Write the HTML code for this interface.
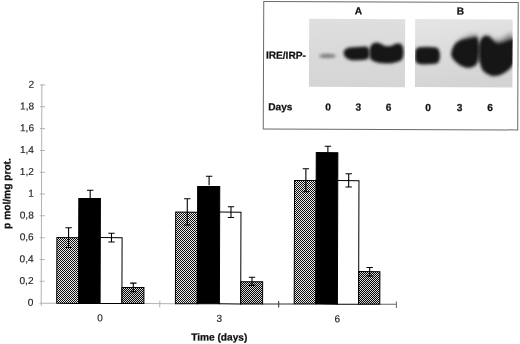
<!DOCTYPE html>
<html>
<head>
<meta charset="utf-8">
<title>Figure</title>
<style>
html,body{margin:0;padding:0;background:#fff;}
body{width:520px;height:344px;overflow:hidden;}
svg{display:block;}
text{font-family:"Liberation Sans",sans-serif;}
.t{font-size:10.1px;fill:#222;stroke:#222;stroke-width:0.15px;}
.x{font-size:10px;fill:#222;stroke:#222;stroke-width:0.15px;}
.b{font-size:10.15px;font-weight:bold;fill:#111;stroke:#111;stroke-width:0.25px;}
</style>
</head>
<body>
<svg width="520" height="344" viewBox="0 0 520 344">
<defs>
  <pattern id="diag" width="1.41421" height="1.41421" patternUnits="userSpaceOnUse" patternTransform="rotate(-0.1719 42 303.3) translate(0.55,0) rotate(45)">
    <rect width="1.5" height="1.5" fill="#fff"/>
    <rect width="1.5" height="0.72" fill="#000"/>
  </pattern>
  <pattern id="chk" width="2" height="2" patternUnits="userSpaceOnUse" patternTransform="rotate(-0.1719 42 303.3)">
    <rect width="2" height="2" fill="#000"/>
    <rect x="0.04" y="0.04" width="0.92" height="0.92" fill="#fff"/>
    <rect x="1.04" y="1.04" width="0.92" height="0.92" fill="#fff"/>
  </pattern>
  <filter id="bl1" x="-30%" y="-30%" width="160%" height="160%"><feGaussianBlur stdDeviation="1.35"/></filter>
  <filter id="bl2" x="-30%" y="-30%" width="160%" height="160%"><feGaussianBlur stdDeviation="1.6"/></filter>
  <filter id="bl3" x="-30%" y="-30%" width="160%" height="160%"><feGaussianBlur stdDeviation="2.6"/></filter>
  <clipPath id="cA"><rect x="309" y="19.1" width="96" height="68"/></clipPath>
  <clipPath id="cB"><rect x="415" y="18.9" width="97.5" height="68"/></clipPath>
  <linearGradient id="gA" x1="0" y1="0" x2="0" y2="1">
    <stop offset="0" stop-color="#dfdfdf"/><stop offset="0.5" stop-color="#d9d9d9"/><stop offset="1" stop-color="#d5d5d5"/>
  </linearGradient>
  <linearGradient id="gB" x1="0" y1="0" x2="0.25" y2="1">
    <stop offset="0" stop-color="#e6e6e6"/><stop offset="0.5" stop-color="#dcdcdc"/><stop offset="1" stop-color="#d4d4d4"/>
  </linearGradient>
</defs>
<rect width="520" height="344" fill="#fff"/>
<g id="chart" transform="rotate(0.1719 42.0 303.3)">
  <g stroke="#b2b2b2" stroke-width="1" fill="none">
    <line x1="41.2" y1="84.50" x2="41.2" y2="306"/>
    <line x1="39.5" y1="85.00" x2="44.5" y2="85.00"/>
    <line x1="39.5" y1="106.81" x2="44.5" y2="106.81"/>
    <line x1="39.5" y1="128.62" x2="44.5" y2="128.62"/>
    <line x1="39.5" y1="150.43" x2="44.5" y2="150.43"/>
    <line x1="39.5" y1="172.24" x2="44.5" y2="172.24"/>
    <line x1="39.5" y1="194.05" x2="44.5" y2="194.05"/>
    <line x1="39.5" y1="215.86" x2="44.5" y2="215.86"/>
    <line x1="39.5" y1="237.67" x2="44.5" y2="237.67"/>
    <line x1="39.5" y1="259.48" x2="44.5" y2="259.48"/>
    <line x1="39.5" y1="281.29" x2="44.5" y2="281.29"/>
    <line x1="39.5" y1="303.20" x2="57" y2="303.20"/>
    <line x1="144" y1="303.3" x2="176" y2="303.3"/>
    <line x1="159.8" y1="300.3" x2="159.8" y2="306.8"/>
  </g>
  <g stroke="#333" stroke-width="1" fill="none">
    <line x1="262" y1="303.3" x2="294" y2="303.3"/>
    <line x1="278.7" y1="300.3" x2="278.7" y2="306.8"/>
  </g>
  <g stroke="#666" stroke-width="1" fill="none">
    <line x1="380" y1="303.3" x2="396.4" y2="303.3"/>
    <line x1="396.4" y1="300.5" x2="396.4" y2="307.0"/>
  </g>
  <g class="t" text-anchor="end">
    <text x="33.5" y="87.75">2</text>
    <text x="33.5" y="109.56">1,8</text>
    <text x="33.5" y="131.37">1,6</text>
    <text x="33.5" y="153.18">1,4</text>
    <text x="33.5" y="174.99">1,2</text>
    <text x="33.5" y="196.80">1</text>
    <text x="33.5" y="218.61">0,8</text>
    <text x="33.5" y="240.42">0,6</text>
    <text x="33.5" y="262.23">0,4</text>
    <text x="33.5" y="284.04">0,2</text>
    <text x="33.5" y="305.85">0</text>
  </g>
  <text class="b" style="font-size:10.2px" transform="translate(10,229) rotate(-90)">p mol/mg prot.</text>
  <g class="x" text-anchor="middle">
    <text x="100.05" y="321.03">0</text>
    <text x="219.36" y="321.17">3</text>
    <text x="337.36" y="321.31">6</text>
  </g>
  <text class="b" x="191.31" y="340.05">Time (days)</text>
  <g stroke="#000" stroke-width="1">
    <rect x="56.70" y="237.52" width="21.80" height="65.78" fill="url(#diag)"/>
    <rect x="78.50" y="198.36" width="21.60" height="104.94" fill="#000"/>
    <rect x="100.10" y="237.39" width="21.80" height="65.91" fill="#fff"/>
    <rect x="121.90" y="287.23" width="22.00" height="16.07" fill="url(#chk)"/>
    <rect x="175.40" y="211.67" width="21.90" height="91.63" fill="url(#diag)"/>
    <rect x="197.30" y="186.00" width="22.10" height="117.30" fill="#000"/>
    <rect x="219.40" y="211.54" width="21.30" height="91.76" fill="#fff"/>
    <rect x="240.70" y="281.07" width="21.90" height="22.23" fill="url(#chk)"/>
    <rect x="294.20" y="179.71" width="21.60" height="123.59" fill="url(#diag)"/>
    <rect x="315.80" y="151.75" width="21.60" height="151.55" fill="#000"/>
    <rect x="337.40" y="179.68" width="21.20" height="123.62" fill="#fff"/>
    <rect x="358.60" y="270.62" width="21.20" height="32.68" fill="url(#chk)"/>
  </g>
  <g stroke="#000" stroke-width="1.1" fill="none">
    <path d="M68.37 227.62V247.42M65.17 227.62h6.4M65.17 247.42h6.4"/>
    <path d="M89.86 190.06v9M86.66 190.06h6.4"/>
    <path d="M111.29 232.99V241.79M108.09 232.99h6.4M108.09 241.79h6.4"/>
    <path d="M133.24 282.83V291.53M130.04 282.83h6.4M130.04 291.53h6.4"/>
    <path d="M186.99 198.36V224.56M183.79 198.36h6.4M183.79 224.56h6.4"/>
    <path d="M208.72 175.80v9M205.52 175.80h6.4"/>
    <path d="M230.71 206.23V216.93M227.51 206.23h6.4M227.51 216.93h6.4"/>
    <path d="M251.92 276.57V284.77M248.72 276.57h6.4M248.72 284.77h6.4"/>
    <path d="M305.50 168.01V191.01M302.30 168.01h6.4M302.30 191.01h6.4"/>
    <path d="M327.43 145.44v9M324.23 145.44h6.4"/>
    <path d="M348.31 172.88V186.08M345.11 172.88h6.4M345.11 186.08h6.4"/>
    <path d="M369.59 266.52V275.02M366.39 266.52h6.4M366.39 275.02h6.4"/>
  </g>
</g>

<g id="panel" transform="rotate(0.2292 390.7 65.7)">
  <rect x="263.5" y="2.0" width="254.45" height="127.4" fill="#fff" stroke="#6a6a6a" stroke-width="1"/>
  <text class="b" x="358.09" y="14.53" text-anchor="middle">A</text>
  <text class="b" x="460.30" y="14.22" text-anchor="middle">B</text>
  <text class="b" x="265.87" y="59.10">IRE/IRP-</text>
  <text class="b" x="268.48" y="110.79">Days</text>
  <text class="b" x="328.18" y="110.75" text-anchor="middle">0</text>
  <text class="b" x="358.48" y="110.63" text-anchor="middle">3</text>
  <text class="b" x="388.78" y="110.81" text-anchor="middle">6</text>
  <text class="b" x="428.18" y="110.85" text-anchor="middle">0</text>
  <text class="b" x="459.68" y="110.72" text-anchor="middle">3</text>
  <text class="b" x="490.18" y="110.60" text-anchor="middle">6</text>
  <!-- blot A -->
  <rect x="309" y="19.1" width="96" height="68" fill="url(#gA)"/>
  <g clip-path="url(#cA)">
    <ellipse cx="327.5" cy="56.2" rx="8.6" ry="2.1" fill="#7c7c7c" filter="url(#bl1)"/>
    <path d="M343.4 53 Q344 48.5 350 47.6 Q360 47 367 46.4 Q369.5 49 369.5 53.5 Q369.5 58 367 59.6 Q360 60.8 352 60.4 Q344 59 343.4 53Z" fill="#151515" filter="url(#bl1)"/>
    <path d="M369.3 53 Q369 46 373 43.6 Q376.5 41.6 380 43.4 Q384 46 388.4 46.2 Q392 46 395 44 Q398.5 42.2 401.5 44.4 Q403.6 47 403.6 52.5 Q403.6 58 401 60.6 Q398 62.4 392 63.2 Q384 64 378 62.8 Q372 61.4 370 58.4 Q369.3 56 369.3 53Z" fill="#151515" filter="url(#bl1)"/>
  </g>
  <!-- blot B -->
  <rect x="415" y="18.9" width="97.5" height="68" fill="url(#gB)"/>
  <g clip-path="url(#cB)">
    <path d="M415 51 Q415.5 47.4 420 47 Q430 46.4 436 47.2 Q439.5 48 440 55 Q440 62 436.5 63.4 Q428 64.6 420 64 Q415.4 63.4 415 59Z" fill="#151515" filter="url(#bl1)"/>
    <path d="M458 42 Q466 35 477 34 L478 46 L458 48Z" fill="#222" opacity="0.55" filter="url(#bl3)"/>
    <path d="M481 42 Q485 31 491 38 Q497 42 503 38 Q508 34 513 33 L513 46 L481 48Z" fill="#222" opacity="0.55" filter="url(#bl3)"/>
    <path d="M451 54.6 Q451.5 47 456 42.6 Q460 39.4 465.8 38.8 Q471 37.8 477 36.6 Q479 42 479 50 Q479 59 476 65 Q472 67.8 467.4 67.8 Q462 67 457.8 63.4 Q452 59.5 451 54.6Z" fill="#151515" filter="url(#bl2)"/>
    <path d="M479 53 Q478.6 42 481.5 38 Q485.5 33.6 490 37 Q494 42 497.7 43 Q503 42.6 507 40.6 Q511 38.6 514 38 L514 62 Q511 68 508.1 70 Q503 74 499.3 75 Q495 76 491.3 75.6 Q486 74 482.6 70 Q479.2 64 479 53Z" fill="#151515" filter="url(#bl2)"/>
    <rect x="477" y="44" width="4" height="18" fill="#1a1a1a" opacity="0.5" filter="url(#bl1)"/>
  </g>
</g>
</svg>
</body>
</html>
